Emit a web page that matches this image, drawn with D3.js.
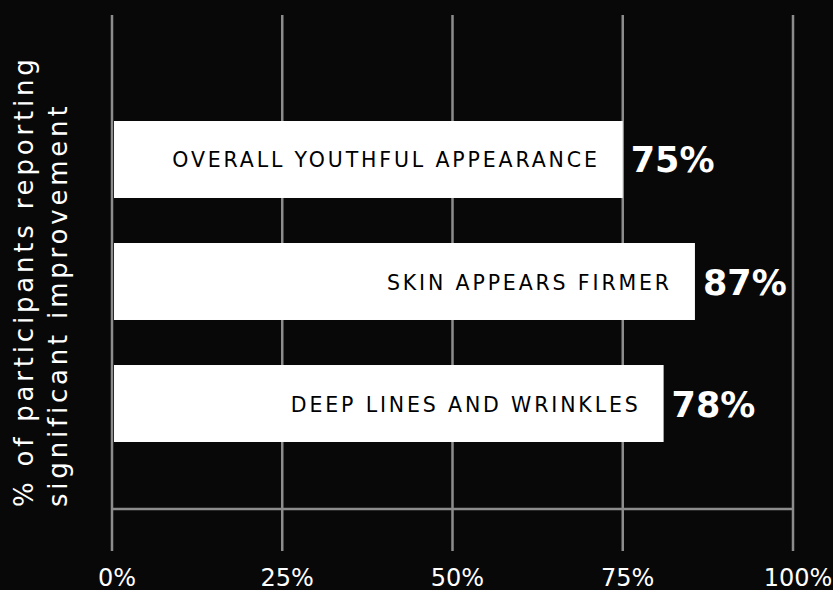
<!DOCTYPE html>
<html>
<head>
<meta charset="utf-8">
<script src="https://cdn.jsdelivr.net/npm/d3@7"></script>
<style>
  body { margin: 0; background: #080808; }
</style>
</head>
<body>
<script>
// data
var categories = ["OVERALL YOUTHFUL APPEARANCE", "SKIN APPEARS FIRMER", "DEEP LINES AND WRINKLES"];
var reported = [75, 87, 78];        // numbers printed next to the bars
var barLengths = [75, 85.6, 81];    // how long the bars are actually drawn
var tickValues = [0, 25, 50, 75, 100];
var tickLabels = ["0%", "25%", "50%", "75%", "100%"];
var titleLines = ["% of participants reporting", "significant improvement"];

//Width and height
var w = 833;
var h = 590;

var svg = d3.select("body")
      .append("svg")
      .attr("width", w)
      .attr("height", h);

svg.append("rect")
   .attr("width", w)
   .attr("height", h)
   .attr("fill", "#080808");

var x = d3.scaleLinear()
      .domain([0, 100])
      .range([112, 793]);

var y = d3.scaleBand()
      .domain(categories)
      .range([60, 503])
      .paddingInner(0.369)
      .paddingOuter(0.5);

// vertical grid lines
svg.selectAll("line.grid")
   .data(tickValues)
   .enter()
   .append("line")
   .attr("class", "grid")
   .attr("x1", function(d) { return x(d); })
   .attr("x2", function(d) { return x(d); })
   .attr("y1", 15)
   .attr("y2", 551)
   .attr("stroke", "#8c8c8c")
   .attr("stroke-width", 2.5);

// baseline
svg.append("line")
   .attr("x1", x(0))
   .attr("x2", x(100))
   .attr("y1", 509)
   .attr("y2", 509)
   .attr("stroke", "#8c8c8c")
   .attr("stroke-width", 2.5);

// bars
svg.selectAll("rect.bar")
   .data(categories)
   .enter()
   .append("rect")
   .attr("class", "bar")
   .attr("x", x(0) + 2)
   .attr("y", function(d) { return y(d); })
   .attr("width", function(d, i) { return x(barLengths[i]) - x(0) - 2; })
   .attr("height", y.bandwidth())
   .attr("fill", "#ffffff");

// category names inside the bars
svg.selectAll("text.cat")
   .data(categories)
   .enter()
   .append("text")
   .attr("class", "cat")
   .text(function(d) { return d; })
   .attr("text-anchor", "end")
   .attr("x", function(d, i) { return x(barLengths[i]) - 23; })
   .attr("y", function(d) { return y(d) + y.bandwidth() / 2 + 8; })
   .attr("font-family", "DejaVu Sans, sans-serif")
   .attr("font-size", "20.5px")
   .attr("letter-spacing", "2.85px")
   .attr("fill", "#000");

// percentages after the bars
svg.selectAll("text.val")
   .data(categories)
   .enter()
   .append("text")
   .attr("class", "val")
   .text(function(d, i) { return reported[i] + "%"; })
   .attr("x", function(d, i) { return x(barLengths[i]) + 8; })
   .attr("y", function(d) { return y(d) + y.bandwidth() / 2 + 13; })
   .attr("font-family", "DejaVu Sans, sans-serif")
   .attr("font-weight", "bold")
   .attr("font-size", "35px")
   .attr("fill", "#fff");

// tick labels
svg.selectAll("text.tick")
   .data(tickValues)
   .enter()
   .append("text")
   .attr("class", "tick")
   .text(function(d, i) { return tickLabels[i]; })
   .attr("text-anchor", "middle")
   .attr("x", function(d) { return x(d) + 5; })
   .attr("y", 586)
   .attr("font-family", "DejaVu Sans, sans-serif")
   .attr("font-size", "24px")
   .attr("fill", "#fff");

// rotated axis title
svg.append("text")
   .attr("transform", "translate(0,507) rotate(-90)")
   .attr("font-family", "DejaVu Sans, sans-serif")
   .attr("font-size", "26px")
   .attr("letter-spacing", "3.8px")
   .attr("fill", "#fff")
   .selectAll("tspan")
   .data(titleLines)
   .enter()
   .append("tspan")
   .attr("x", 0)
   .attr("y", function(d, i) { return 33 + i * 34; })
   .text(function(d) { return d; });
</script>
</body>
</html>
